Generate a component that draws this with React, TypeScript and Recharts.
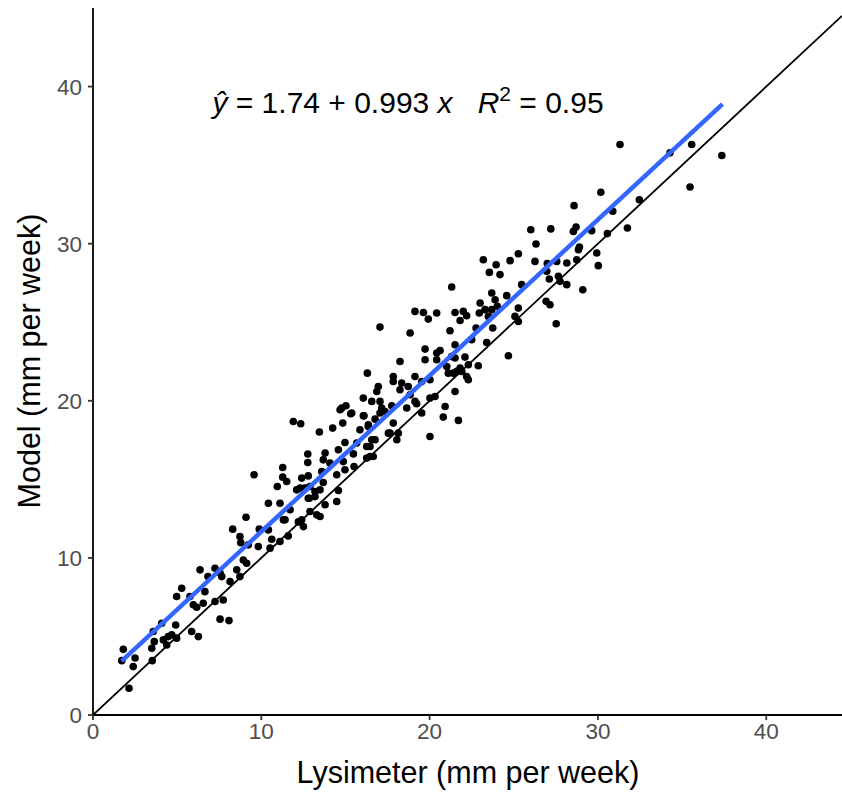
import React from "react";
import { ScatterChart, Scatter, XAxis, YAxis } from "recharts";

// Lysimeter (x) and Model (y) weekly values, mm per week
const lysimeter = [
  1.80, 1.71, 2.39, 2.14, 2.50, 3.52, 3.49, 3.64, 3.58, 4.08, 4.18, 4.38, 4.47, 4.68, 4.97, 4.91, 5.86, 6.26,
  4.97, 5.27, 5.76, 5.96, 6.16, 6.55, 6.65, 7.25, 7.74, 7.55, 8.08, 6.36, 6.83, 7.55, 8.14,
  10.95, 11.51, 12.30, 12.89, 13.19, 10.42, 11.11, 11.71, 12.79, 12.89, 9.09, 8.30, 8.73, 8.78, 9.88, 10.42,
  10.62, 11.11, 11.60, 11.31, 10.52, 9.82, 9.23, 8.93, 9.13, 8.54, 8.73, 7.25, 7.65, 12.20, 12.50, 13.29,
  11.90, 12.34, 13.45, 14.24, 14.84, 14.78, 15.03, 15.31, 16.10, 16.36, 15.86, 16.56, 17.05, 17.05, 17.55,
  14.97, 15.67, 16.26, 16.76, 14.58, 13.79, 12.76, 12.76, 13.68, 14.08, 14.87, 14.97, 14.48, 15.51, 16.26,
  16.65, 13.59, 11.27, 11.27, 12.40, 12.79, 12.10, 12.60, 13.68, 13.49, 14.58, 12.85, 13.19, 13.79, 14.48,
  13.49, 12.40, 11.41,
  17.05, 18.84, 21.21, 19.73, 20.62, 21.51, 18.24, 19.73, 20.42, 21.31, 16.30, 17.84, 19.13, 17.84, 18.34,
  16.95, 16.86, 18.24, 18.73, 19.53, 21.11, 21.61, 16.06, 18.84, 19.13, 20.02, 20.32, 21.51, 17.15, 17.75,
  17.35, 18.64, 19.23, 20.92, 14.68, 15.37, 16.06, 16.76, 19.53, 20.81, 21.71, 16.36, 17.84, 17.65, 18.14,
  18.05, 16.56, 20.02, 16.46, 15.47, 16.46,
  23.19, 23.95, 24.78, 23.55, 24.18, 21.31, 23.69, 24.58, 23.89, 23.00, 25.47, 19.13, 19.63, 19.92, 20.42,
  21.51, 22.00, 22.20, 21.81, 22.95, 23.29, 23.69, 24.02, 23.49, 25.27, 25.07, 25.27, 22.76, 23.75, 22.50,
  23.39, 20.42, 21.51, 22.10, 21.02, 21.81, 22.30, 22.89, 24.68, 21.41, 21.91, 22.20, 22.30, 20.02,
  28.58, 26.01, 27.20, 28.54, 28.70, 26.32, 28.84, 28.74, 29.93, 30.02, 25.27, 26.26, 26.99, 27.55, 28.15,
  26.96, 27.11, 27.65, 27.75, 28.15, 29.10, 26.92, 27.15,
  31.31, 35.57, 34.28, 37.36, 35.47, 30.17, 32.46, 30.88, 29.63, 30.56, 31.75, 28.90,
  9.57, 27.52,
];
const model = [
  4.18, 3.46, 3.08, 1.70, 3.63, 3.46, 4.25, 4.67, 5.31, 5.84, 4.78, 4.46, 4.99, 5.10, 4.89, 5.73, 5.31, 4.99,
  7.54, 8.07, 7.54, 7.01, 6.86, 7.11, 7.85, 7.22, 7.32, 6.10, 6.01, 9.24, 8.81, 9.04, 8.49,
  14.54, 14.86, 14.44, 14.54, 14.22, 13.48, 13.48, 13.06, 13.80, 12.95, 12.59, 11.83, 11.36, 10.97, 11.83, 11.78,
  11.19, 11.04, 11.40, 12.42, 10.62, 10.72, 10.83, 9.87, 9.66, 9.24, 8.81, 9.34, 8.81, 12.29, 11.99, 12.74,
  18.68, 18.54, 18.01, 18.26, 18.58, 19.54, 19.68, 19.17, 19.04, 18.47, 18.15, 19.96, 19.96, 19.22, 17.94,
  17.34, 17.31, 17.09, 17.52, 16.88, 16.67, 16.61, 16.07, 16.24, 16.03, 16.13, 15.61, 15.29, 15.82, 16.35,
  16.45, 15.50, 15.75, 15.14, 15.08, 15.22, 14.33, 14.44, 14.80, 14.33, 14.29, 13.80, 13.90, 13.38, 13.59,
  12.63, 12.42, 12.42,
  24.69, 24.31, 24.46, 23.29, 23.20, 23.57, 22.50, 22.61, 22.61, 22.82, 21.76, 21.55, 21.55, 21.23, 21.13,
  20.91, 20.59, 20.70, 20.91, 21.23, 21.76, 21.87, 20.17, 20.38, 19.96, 20.17, 20.27, 20.59, 19.54, 19.68,
  19.32, 19.54, 19.81, 19.64, 19.43, 19.22, 19.04, 18.83, 19.22, 18.96, 18.75, 18.36, 18.58, 17.94, 17.94,
  17.52, 17.52, 17.73, 17.09, 16.62, 16.45,
  28.98, 28.66, 28.92, 28.17, 28.03, 27.24, 26.86, 26.69, 26.43, 26.22, 27.39, 25.69, 25.62, 25.20, 25.59,
  25.62, 25.69, 25.41, 25.11, 25.59, 25.80, 25.80, 26.01, 25.37, 25.90, 25.37, 25.05, 24.63, 24.63, 23.89,
  23.71, 23.04, 22.72, 22.78, 22.18, 22.08, 22.29, 22.23, 22.87, 21.76, 21.87, 21.55, 21.34, 21.34,
  32.42, 30.89, 30.94, 30.78, 31.06, 29.98, 29.62, 28.98, 29.41, 28.60, 29.36, 28.87, 28.73, 28.87, 28.77,
  28.24, 27.75, 27.92, 27.60, 27.39, 27.07, 26.33, 26.11,
  36.31, 36.31, 35.78, 35.61, 33.61, 33.27, 32.80, 32.06, 30.83, 30.64, 31.00, 29.79,
  15.29, 24.90,
];

// 1:1 reference line end points and fitted line end points (y = 1.74 + 0.993 x)
const identityX = [0, 44.5];
const identityY = [0, 44.5];
const fitX = [1.7, 37.4];
const fitY = [3.43, 38.88];

const xTicks = [0, 10, 20, 30, 40];
const yTicks = [0, 10, 20, 30, 40];

const points = lysimeter.map((x, i) => ({ x, y: model[i] }));
const identity = identityX.map((x, i) => ({ x, y: identityY[i] }));
const fit = fitX.map((x, i) => ({ x, y: fitY[i] }));

const FONT = "'Liberation Sans', Arial, sans-serif";

const Dot = (p: any) => <circle cx={p.cx} cy={p.cy} r={3.8} fill="#000000" />;
const NoDot = () => <g />;

export default function App() {
  return (
    <div style={{ position: "absolute", left: 0, top: 0, width: 842, height: 792, background: "#fff", fontFamily: FONT }}>
      <ScatterChart width={842} height={792} margin={{ top: 8, right: 0, bottom: 0, left: 0 }}>
        <XAxis
          type="number"
          dataKey="x"
          domain={[0, 44.5]}
          ticks={xTicks}
          allowDataOverflow
          height={77}
          tickSize={5}
          tickMargin={3}
          axisLine={{ stroke: "#000", strokeWidth: 1.8 }}
          tickLine={{ stroke: "#333", strokeWidth: 1.8 }}
          tick={{ fill: "#4d4d4d", fontSize: 22.5, fontFamily: FONT }}
        />
        <YAxis
          type="number"
          dataKey="y"
          domain={[0, 45]}
          ticks={yTicks}
          allowDataOverflow
          width={93}
          tickSize={5}
          tickMargin={6}
          axisLine={{ stroke: "#000", strokeWidth: 1.8 }}
          tickLine={{ stroke: "#333", strokeWidth: 1.8 }}
          tick={{ fill: "#4d4d4d", fontSize: 22.5, fontFamily: FONT }}
        />
        <Scatter data={points} shape={Dot} isAnimationActive={false} />
        <Scatter
          data={identity}
          line={{ stroke: "#000", strokeWidth: 1.8 }}
          shape={NoDot}
          isAnimationActive={false}
        />
        <Scatter
          data={fit}
          line={{ stroke: "#3366FF", strokeWidth: 4.5 }}
          shape={NoDot}
          isAnimationActive={false}
        />
      </ScatterChart>
      <svg
        width={842}
        height={792}
        style={{ position: "absolute", left: 0, top: 0, pointerEvents: "none" }}
      >
        <text x={408} y={113} textAnchor="middle" fontSize={30} fontFamily={FONT} fill="#000">
          <tspan fontStyle="italic">ŷ</tspan>
          <tspan> = 1.74 + 0.993 </tspan>
          <tspan fontStyle="italic">x</tspan>
          <tspan xmlSpace="preserve">{"   "}</tspan>
          <tspan fontStyle="italic">R</tspan>
          <tspan dy={-12} fontSize={21}>2</tspan>
          <tspan dy={12}> = 0.95</tspan>
        </text>
        <text x={468} y={783} textAnchor="middle" fontSize={30.5} fontFamily={FONT} fill="#000">
          Lysimeter (mm per week)
        </text>
        <text
          x={40}
          y={361}
          textAnchor="middle"
          fontSize={30.5}
          fontFamily={FONT}
          fill="#000"
          transform="rotate(-90 40 361)"
        >
          Model (mm per week)
        </text>
      </svg>
    </div>
  );
}
